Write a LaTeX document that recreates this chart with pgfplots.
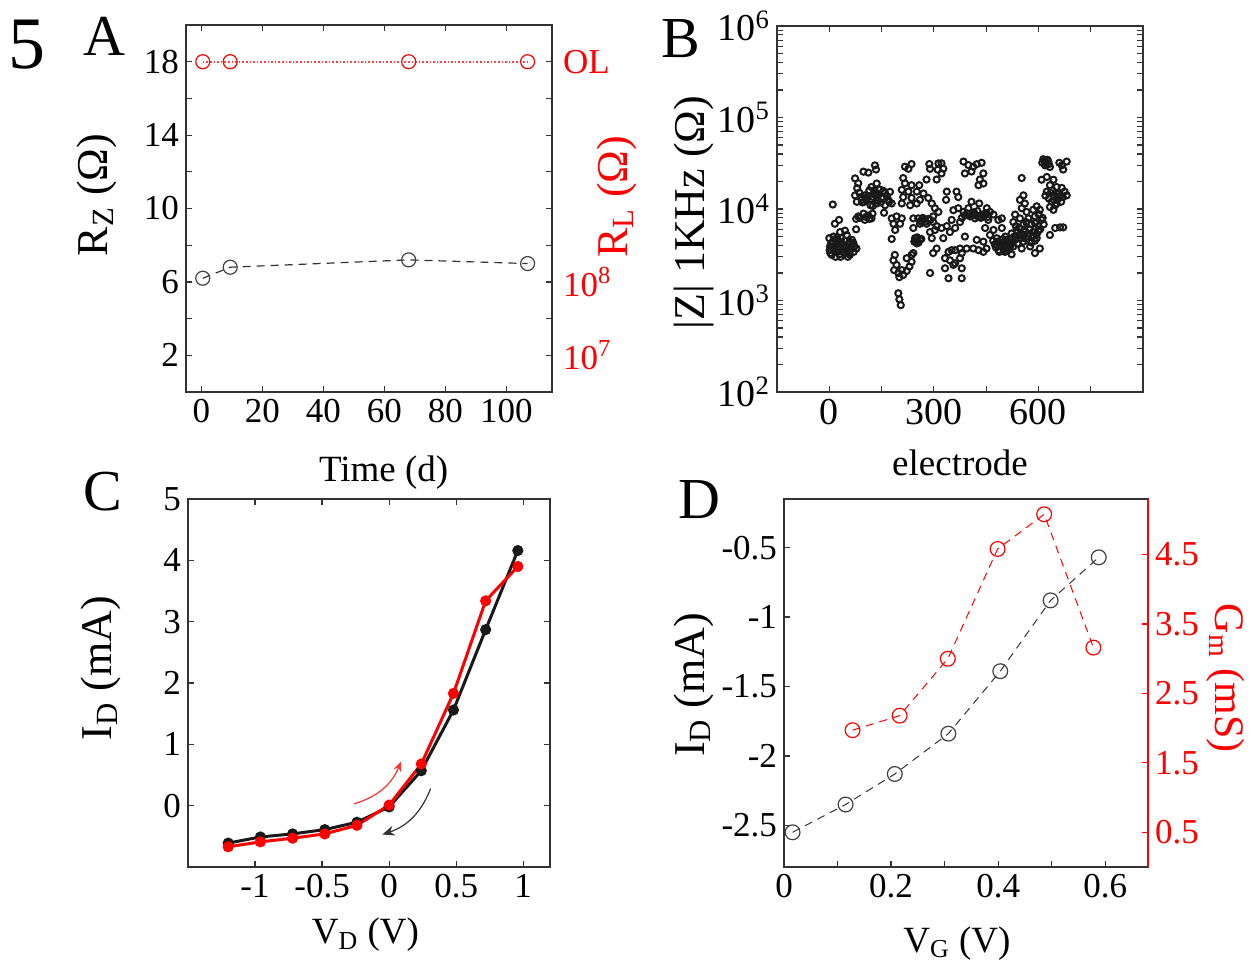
\documentclass[border=0pt]{standalone}
\usepackage{fontspec}
\setmainfont{Liberation Serif}
\usepackage{pgfplots}
\pgfplotsset{compat=1.18}
\usetikzlibrary{arrows.meta}

\definecolor{spine}{HTML}{333333}
\definecolor{pred}{HTML}{FF0000}

\pgfplotsset{
  panel/.style={
    scale only axis,
    axis line style={spine, line width=0.8pt},
    tick style={spine, line width=0.6pt},
    major tick length=3pt, minor tick length=3pt,
    tick label style={font=\fontsize{17.5}{19}\selectfont},
    /pgf/number format/assume math mode=true,
    every axis y label/.style={rotate=90, anchor=center, font=\fontsize{22}{24}\selectfont},
    every axis x label/.style={anchor=center, font=\fontsize{18.5}{20}\selectfont},
  },
}

\begin{document}
\begin{tikzpicture}
\fill[white] (0,0) rectangle (625.5pt,-484.5pt);
\path[use as bounding box] (0,0) rectangle (625.5pt,-484.5pt);

% ---- A ----
\begin{axis}[panel, at={(93pt,-196pt)}, anchor=south west,
  width=183pt, height=183.5pt,
  xmin=-5, xmax=115, ymin=0, ymax=20,
  xtick={0,20,...,100}, ytick={2,6,10,14,18}, minor ytick={4,8,12,16},
  xlabel={Time (d)}, ylabel={R\textsubscript{Z} (Ω)},
  xlabel style={at={(axis description cs:0.54,-0.22)}},
  ylabel style={at={(axis description cs:-0.243,0.537)}},
]
\addplot[pred!75, densely dotted, line width=0.8pt, mark=o, mark size=3.5pt,
  mark options={solid, pred, line width=0.6pt}]
  coordinates {(0.5,18) (9.5,18) (68,18) (107,18)};
\addplot[spine, dash pattern=on 4pt off 3pt, line width=0.6pt, mark=o, mark size=3.5pt,
  mark options={solid, black!75, line width=0.6pt}]
  coordinates {(0.5,6.2) (9.5,6.8) (68,7.2) (107,7.0)};
\end{axis}
\begin{axis}[panel, at={(93pt,-196pt)}, anchor=south west,
  width=183pt, height=183.5pt,
  xmin=-5, xmax=115, ymin=0, ymax=20,
  axis x line=none, axis y line*=right, y axis line style={draw=none},
  major tick length=0pt, ytick={2,6,18},
  yticklabels={10\textsuperscript{7},10\textsuperscript{8},OL},
  yticklabel style={pred, xshift=2pt}, clip=false,
]
\addplot[draw=none] coordinates {(0,0)};
\node[pred, rotate=90, font=\fontsize{22}{24}\selectfont]
  at (axis description cs:1.178,0.532) {R\textsubscript{L} (Ω)};
\end{axis}

% ---- B ----
\begin{axis}[panel, at={(388.5pt,-196pt)}, anchor=south west,
  width=183pt, height=183pt,
  ymode=log, xmin=-150, xmax=900, ymin=1e2, ymax=1e6,
  xtick={-150,0,...,900}, xticklabels={,0,,300,,600,,},
  ytick={1e2,1e3,1e4,1e5,1e6},
  yticklabels={10\textsuperscript{2},10\textsuperscript{3},10\textsuperscript{4},10\textsuperscript{5},10\textsuperscript{6}},
  tick label style={font=\fontsize{19}{21}\selectfont},
  xlabel={electrode}, ylabel={|Z| 1KHz (Ω)},
  xlabel style={at={(axis description cs:0.5,-0.194)}},
  ylabel style={at={(axis description cs:-0.227,0.49)}},
]
\addplot[only marks, mark=o, mark size=1.55pt, mark options={black!90, line width=1pt}]
coordinates {
(10,11200)(16,6900)(28,7600)(45,5800)(77,6000)(0,4800)(12,5000)(2,3900)(1,3550)(12,3550)
(23,4100)(29,3200)(35,4800)(40,3700)(50,5200)(55,4100)(59,3150)(69,4250)(78,3700)(19,4600)
(7,3150)(45,3300)(64,3700)(31,5600)(74,21600)(98,25600)(112,25000)(83,19100)(80,16900)(74,14100)
(86,15100)(102,14100)(79,12000)(93,12600)(107,12600)(83,8300)(98,8900)(112,8500)(77,7800)(102,7600)
(5,4200)(20,3400)(50,3500)(65,4600)(35,4200)(25,3800)(70,3400)(8,3900)(42,3950)(58,3300)
(90,13500)(110,13800)(95,11800)(88,8000)(105,8200)(115,7800)
(3,3300)(15,3700)(27,4400)(38,3400)(48,3900)(60,3700)(66,4000)(10,4400)(32,3000)(53,3000)
(18,3000)(44,4500)(72,3900)(22,4900)(58,4400)
(100,12000)(120,12800)(130,14500)(118,11000)(105,13000)(140,12300)(125,10800)(135,15000)(115,16000)
(131,30000)(134,27000)(217,29000)(236,31000)(227,27500)(287,31000)(289,27500)(313,31500)(311,26900)
(212,21800)(217,19100)(236,18200)(258,18200)(279,21000)(308,21000)(121,17400)(136,19000)(145,16300)
(160,14900)(174,15400)(126,13500)(150,13100)(169,12600)(136,11500)(160,11000)(179,11500)(124,8900)
(157,9100)(121,7900)(208,16200)(227,15500)(251,15500)(270,14800)(212,13500)(236,13200)(260,12600)
(284,13200)(208,11500)(232,11000)(251,11500)(294,11500)(303,10200)(313,9300)(298,8300)(179,7900)
(193,8300)(208,7900)(184,6900)(203,6900)(241,7900)(189,5900)(241,6200)(255,7900)(270,7600)(284,7800)
(298,7200)(260,6900)(279,6900)(179,4700)(289,5600)(303,5900)(294,4800)(308,6500)(246,4800)(260,4600)
(251,4200)(298,3300)(308,3700)(188,3150)(184,2750)(193,2450)(186,2150)(198,2000)(212,1900)(208,2150)
(222,2900)(236,3150)(236,2650)(230,2350)(222,2100)(241,3300)(201,1800)(289,2000)(198,1200)(201,1030)
(205,890)(140,14000)(155,15800)(165,13800)(128,16000)(148,11800)(172,12000)(265,7200)(290,7600)
(248,4500)(256,4300)(264,4700)(244,4400)(252,4900)(262,7400)(276,7300)(268,8000)
(322,31600)(327,27600)(322,24500)(385,33000)(399,30200)(413,29000)(423,30900)(437,32000)(389,24500)
(408,25700)(442,24500)(432,21000)(442,19000)(428,18200)(337,15500)(335,12600)(365,15500)(370,13500)
(356,9700)(370,10200)(385,9300)(399,10200)(408,12000)(430,11500)(413,8900)(428,8300)(452,10200)
(461,9300)(471,8700)(485,7600)(495,7900)(389,8500)(404,8300)(418,7900)(442,8300)(456,7600)(351,7600)
(337,6500)(361,6200)(322,6200)(346,5600)(375,7200)(327,4800)(389,5000)(423,4600)(447,6200)(471,5900)
(495,6200)(461,5200)(480,4800)(495,4300)(509,4600)(485,3550)(504,3400)(514,3900)(475,4100)(442,4400)
(451,3700)(428,3550)(413,3700)(394,3700)(375,3700)(361,3550)(351,3550)(342,3400)(380,3300)(442,3400)
(332,2900)(346,2750)(361,2550)(375,2900)(380,2250)(332,2250)(342,1750)(380,1750)(356,2450)
(395,9000)(410,8600)(425,9500)(435,8000)(450,9000)(490,4000)(500,3700)(510,4200)(478,3800)(505,5000)
(400,8800)(415,9200)(440,8700)(420,8500)(455,8200)(380,8000)
(483,4400)(493,3900)(503,4100)(515,3600)(488,3400)(498,4700)(508,3500)(520,4000)(470,4500)(512,4400)
(614,35000)(628,33000)(619,30000)(633,28800)(667,30000)(681,33000)(671,27000)(660,32000)(552,21800)
(609,20900)(624,22400)(643,20900)(633,18200)(652,17400)(667,17000)(624,15500)(643,14100)(662,13800)
(681,14100)(638,12000)(652,11500)(643,9800)(633,10500)(657,13000)(557,14100)(547,12600)(561,11500)
(552,10200)(566,9300)(595,10700)(604,9800)(585,9800)(533,8700)(547,7900)(571,7900)(590,8300)(609,7600)
(528,7200)(557,6800)(580,6800)(600,6500)(537,5900)(561,5600)(585,5600)(523,5400)(547,5200)(571,5000)
(595,4800)(533,4600)(557,4400)(580,4300)(528,3900)(552,3700)(576,3900)(523,3200)(590,3300)(604,3700)
(633,5200)(648,6200)(662,6300)(671,6300)
(540,4200)(565,4700)(590,4500)(520,4700)(545,6200)(575,6000)(600,5800)(620,14000)(640,16000)
(660,15000)(612,8000)(605,6000)(615,6800)
(530,5000)(550,4800)(560,6000)(570,5400)(585,5100)(595,5300)(540,5600)(555,5200)(525,4300)(535,6500)
(565,7200)(590,7000)(600,8800)
(630,13000)(645,12500)(655,14500)(670,13500)(648,11000)(635,15000)(665,12000)(675,15500)
(617,33500)(622,31500)(626,34500)(611,32000)(630,31000)
};
\end{axis}

% ---- C ----
\begin{axis}[panel, at={(94pt,-433.5pt)}, anchor=south west,
  width=181pt, height=184pt,
  xmin=-1.5, xmax=1.2, ymin=-1, ymax=5,
  xtick={-1,-0.5,0,0.5,1}, ytick={0,...,5},
  xlabel={V\textsubscript{D} (V)}, ylabel={I\textsubscript{D} (mA)},
  xlabel style={at={(axis description cs:0.49,-0.185)}},
  ylabel style={at={(axis description cs:-0.24,0.54)}},
]
\addplot[black!90, line width=1.5pt, mark=*, mark size=2pt]
  coordinates {(-1.2,-0.61) (-0.96,-0.51) (-0.72,-0.46) (-0.48,-0.39) (-0.24,-0.27)
               (0,-0.02) (0.24,0.57) (0.48,1.56) (0.72,2.87) (0.96,4.16)};
\addplot[pred, line width=1.5pt, mark=*, mark size=2pt]
  coordinates {(-1.2,-0.67) (-0.96,-0.59) (-0.72,-0.53) (-0.48,-0.46) (-0.24,-0.32)
               (0,0.01) (0.24,0.68) (0.48,1.83) (0.72,3.34) (0.96,3.90)};
\draw[-{Stealth[length=5pt,width=4pt]}, pred!80, line width=0.6pt]
  (axis cs:-0.26,0.03) to[bend right=25] (axis cs:0.09,0.72);
\draw[-{Stealth[length=6pt,width=5pt]}, spine, line width=0.6pt]
  (axis cs:0.31,0.28) to[bend left=25] (axis cs:-0.05,-0.47);
\end{axis}

% ---- D ----
\begin{axis}[panel, at={(392pt,-433.5pt)}, anchor=south west,
  width=182pt, height=184pt,
  xmin=0, xmax=0.68, ymin=-2.8, ymax=-0.15,
  xtick={0,0.2,0.4,0.6}, minor xtick={0.1,0.3,0.5},
  ytick={-2.5,-2,-1.5,-1,-0.5},
  xtick pos=bottom, ytick pos=left,
  xlabel={V\textsubscript{G} (V)}, ylabel={I\textsubscript{D} (mA)},
  xlabel style={at={(axis description cs:0.475,-0.207)}},
  ylabel style={at={(axis description cs:-0.247,0.495)}},
]
\addplot[spine, dash pattern=on 4pt off 3pt, line width=0.5pt, mark=o, mark size=3.7pt,
  mark options={solid, black!75, line width=0.6pt}]
  coordinates {(0.016,-2.55) (0.115,-2.35) (0.207,-2.13) (0.307,-1.84)
               (0.404,-1.39) (0.498,-0.88) (0.588,-0.57)};
\end{axis}
\begin{axis}[panel, at={(392pt,-433.5pt)}, anchor=south west,
  width=182pt, height=184pt,
  xmin=0, xmax=0.68, ymin=0, ymax=5.3,
  axis x line=none, axis y line*=right,
  y axis line style={pred, line width=0.8pt},
  ytick={0.5,1.5,2.5,3.5,4.5}, ytick style={pred},
  yticklabel style={pred}, clip=false,
]
\addplot[pred, dash pattern=on 4pt off 3pt, line width=0.5pt, mark=o, mark size=3.7pt,
  mark options={solid, pred, line width=0.6pt}]
  coordinates {(0.128,1.97) (0.216,2.18) (0.306,3.0) (0.399,4.58) (0.486,5.08) (0.578,3.16)};
\node[pred, rotate=-90, font=\fontsize{21}{23}\selectfont]
  at (axis description cs:1.214,0.513) {G\textsubscript{m} (mS)};
\end{axis}

% panel letters
\node[font=\fontsize{37}{40}\selectfont] at (13.5pt,-22.5pt) {5};
\node[font=\fontsize{29}{32}\selectfont] at (52pt,-18pt) {A};
\node[font=\fontsize{29}{32}\selectfont] at (340.5pt,-19.5pt) {B};
\node[font=\fontsize{29}{32}\selectfont] at (51.5pt,-246pt) {C};
\node[font=\fontsize{29}{32}\selectfont] at (349.5pt,-250pt) {D};
\end{tikzpicture}
\end{document}
